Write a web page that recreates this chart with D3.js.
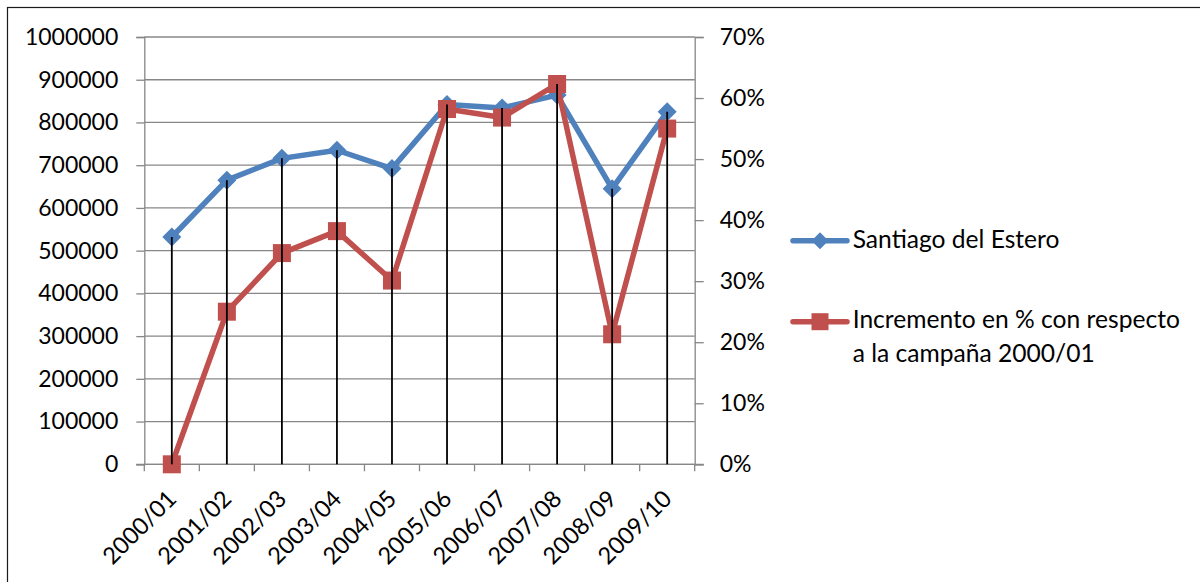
<!DOCTYPE html>
<html>
<head>
<meta charset="utf-8">
<script src="https://cdn.jsdelivr.net/npm/d3@7"></script>
<style>
  html, body { margin: 0; padding: 0; background: #fff; }
  svg { display: block; }
  text { font-family: Lato, "Open Sans", sans-serif; fill: #000; }
</style>
</head>
<body>
<svg id="chart" width="1200" height="582"></svg>
<script>
// Campaigns (x categories)
const campaigns = ["2000/01", "2001/02", "2002/03", "2003/04", "2004/05",
                   "2005/06", "2006/07", "2007/08", "2008/09", "2009/10"];
// Santiago del Estero, primary axis
const santiago = [532000, 665000, 716000, 735000, 692000,
                  842000, 834000, 864000, 645000, 825000];
// Increase vs. 2000/01 campaign, secondary axis (fraction)
const incremento = [0, 0.25, 0.346, 0.382, 0.301,
                    0.582, 0.568, 0.623, 0.213, 0.55];
// Axis ticks
const leftTicks = [0, 100000, 200000, 300000, 400000, 500000,
                   600000, 700000, 800000, 900000, 1000000];
const rightTicks = [0, 0.1, 0.2, 0.3, 0.4, 0.5, 0.6, 0.7];
const seriesNames = ["Santiago del Estero",
                     ["Incremento en % con respecto", "a la campaña 2000/01"]];

const BLUE = "#4F81BD", RED = "#C0504D", GRID = "#878787";
const svg = d3.select("#chart");

const plot = { left: 144.3, right: 694.7, top: 37, bottom: 464.3 };

const x = d3.scaleBand().domain(campaigns).range([plot.left, plot.right]).padding(0);
const cx = d => x(d) + x.bandwidth() / 2;
const yL = d3.scaleLinear().domain([0, 1000000]).range([plot.bottom, plot.top]);
const yR = d3.scaleLinear().domain([0, 0.7]).range([plot.bottom, plot.top]);

// Chart area border
svg.append("rect")
  .attr("x", 7.5).attr("y", 7.5).attr("width", 1210).attr("height", 600)
  .attr("fill", "none").attr("stroke", "#1a1a1a").attr("stroke-width", 1.2);

// Horizontal gridlines
svg.append("g").selectAll("line").data(leftTicks).join("line")
  .attr("x1", plot.left).attr("x2", plot.right)
  .attr("y1", d => yL(d)).attr("y2", d => yL(d))
  .attr("stroke", GRID).attr("stroke-width", 1.3);

// Left axis
const leftAxis = d3.axisLeft(yL).tickValues(leftTicks)
  .tickFormat(d3.format("d")).tickSize(8).tickPadding(18);
const gL = svg.append("g").attr("transform", `translate(${plot.left},0)`).call(leftAxis);
gL.select(".domain").attr("stroke", GRID).attr("stroke-width", 1.3);
gL.selectAll(".tick line").attr("stroke", GRID).attr("stroke-width", 1.3);
gL.selectAll(".tick text").attr("font-size", 23).attr("font-family", "Lato").attr("fill", "#000");

// Right axis
const rightAxis = d3.axisRight(yR).tickValues(rightTicks)
  .tickFormat(d3.format(".0%")).tickSize(9).tickPadding(16);
const gR = svg.append("g").attr("transform", `translate(${plot.right},0)`).call(rightAxis);
gR.select(".domain").attr("stroke", GRID).attr("stroke-width", 1.3);
gR.selectAll(".tick line").attr("stroke", GRID).attr("stroke-width", 1.3);
gR.selectAll(".tick text").attr("font-size", 23).attr("font-family", "Lato").attr("fill", "#000");

// Bottom axis: ticks on category boundaries
const boundaries = campaigns.map(c => x(c)).concat([plot.right]);
const gB = svg.append("g");
gB.append("line")
  .attr("x1", plot.left - 8).attr("x2", plot.right + 9)
  .attr("y1", plot.bottom).attr("y2", plot.bottom)
  .attr("stroke", GRID).attr("stroke-width", 1.3);
gB.selectAll("line.tk").data(boundaries).join("line").attr("class", "tk")
  .attr("x1", d => d).attr("x2", d => d)
  .attr("y1", plot.bottom).attr("y2", plot.bottom + 7)
  .attr("stroke", GRID).attr("stroke-width", 1.3);
gB.selectAll("text").data(campaigns).join("text")
  .attr("transform", d => `translate(${cx(d) + 6},${plot.bottom + 36}) rotate(-45)`)
  .attr("text-anchor", "end")
  .attr("font-size", 23.5)
  .text(d => d);

// Series lines
const lineL = d3.line().x((d, i) => cx(campaigns[i])).y(d => yL(d));
const lineR = d3.line().x((d, i) => cx(campaigns[i])).y(d => yR(d));

svg.append("path").datum(santiago).attr("d", lineL)
  .attr("fill", "none").attr("stroke", BLUE).attr("stroke-width", 5.5)
  .attr("stroke-linejoin", "round").attr("stroke-linecap", "round");
const diamond = r => `M0,${-r}L${r},0L0,${r}L${-r},0Z`;
svg.append("g").selectAll("path").data(santiago).join("path")
  .attr("d", diamond(9.5))
  .attr("transform", (d, i) => `translate(${cx(campaigns[i])},${yL(d)})`)
  .attr("fill", BLUE);

svg.append("path").datum(incremento).attr("d", lineR)
  .attr("fill", "none").attr("stroke", RED).attr("stroke-width", 5.5)
  .attr("stroke-linejoin", "round").attr("stroke-linecap", "round");
const SQ = 18;
svg.append("g").selectAll("rect").data(incremento).join("rect")
  .attr("x", (d, i) => cx(campaigns[i]) - SQ / 2)
  .attr("y", d => yR(d) - SQ / 2)
  .attr("width", SQ).attr("height", SQ)
  .attr("fill", RED);

// Drop lines from the highest point of each category to the axis
svg.append("g").selectAll("line").data(campaigns).join("line")
  .attr("x1", d => cx(d)).attr("x2", d => cx(d))
  .attr("y1", (d, i) => Math.min(yL(santiago[i]), yR(incremento[i])))
  .attr("y2", plot.bottom)
  .attr("stroke", "#000").attr("stroke-width", 1.8);

// Legend
const lg = svg.append("g");
const lx1 = 793, lx2 = 847, tx = 852.7;
lg.append("line").attr("x1", lx1).attr("x2", lx2).attr("y1", 240.7).attr("y2", 240.7)
  .attr("stroke", BLUE).attr("stroke-width", 5.5).attr("stroke-linecap", "round");
lg.append("path").attr("d", diamond(8.5))
  .attr("transform", `translate(${(lx1 + lx2) / 2},240.7)`).attr("fill", BLUE);
lg.append("text").attr("x", tx).attr("y", 248.3).attr("font-size", 24.6).text(seriesNames[0]);

lg.append("line").attr("x1", lx1).attr("x2", lx2).attr("y1", 321.7).attr("y2", 321.7)
  .attr("stroke", RED).attr("stroke-width", 5.5).attr("stroke-linecap", "round");
lg.append("rect").attr("x", (lx1 + lx2) / 2 - 8.5).attr("y", 321.7 - 8.5)
  .attr("width", 17).attr("height", 17).attr("fill", RED);
lg.append("text").attr("x", tx).attr("y", 328.3).attr("font-size", 24.6).text(seriesNames[1][0]);
lg.append("text").attr("x", tx).attr("y", 361.7).attr("font-size", 24.6).text(seriesNames[1][1]);
</script>
</body>
</html>
